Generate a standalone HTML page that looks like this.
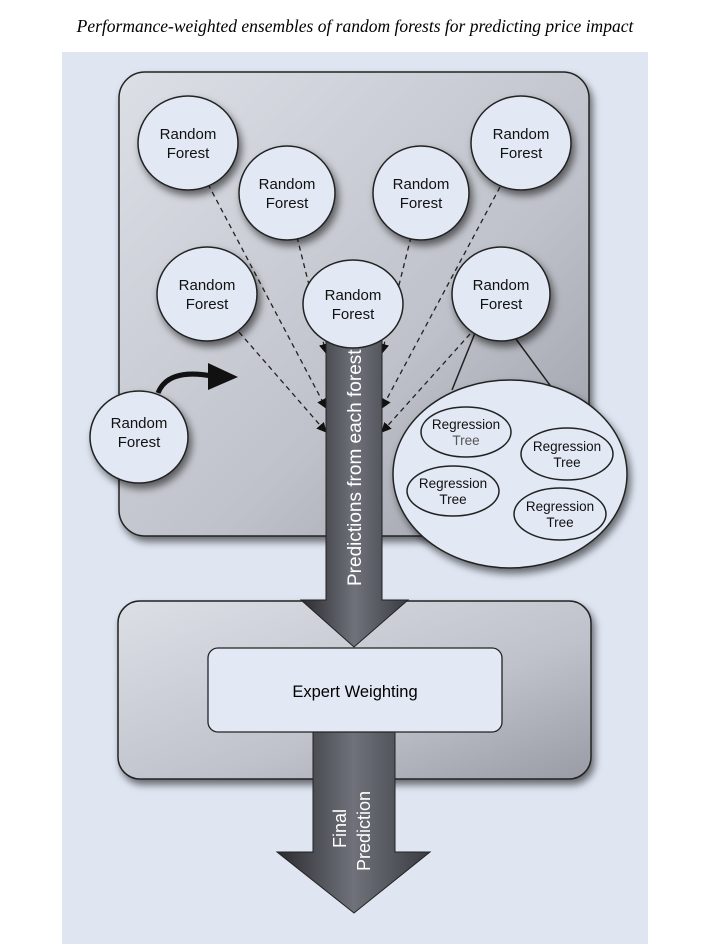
<!DOCTYPE html>
<html><head><meta charset="utf-8"><style>
html,body{margin:0;padding:0;background:#fff;}
svg{display:block;}
</style></head><body>
<svg width="710" height="946" viewBox="0 0 710 946" xmlns="http://www.w3.org/2000/svg">
<defs>
<linearGradient id="pg" x1="0" y1="0" x2="1" y2="1">
<stop offset="0" stop-color="#dcdfe6"/><stop offset="0.6" stop-color="#bfc2ca"/><stop offset="1" stop-color="#999ca5"/>
</linearGradient>
<linearGradient id="sg" x1="0" y1="0" x2="1" y2="0">
<stop offset="0" stop-color="#2a2b30"/><stop offset="0.5" stop-color="#6f727a"/><stop offset="1" stop-color="#3a3c42"/>
</linearGradient>
<filter id="sh" x="-10%" y="-10%" width="130%" height="130%"><feDropShadow dx="3" dy="5" stdDeviation="4" flood-color="#000" flood-opacity="0.55"/></filter>
<marker id="ah" markerWidth="10" markerHeight="10" refX="9" refY="5" orient="auto" markerUnits="userSpaceOnUse"><path d="M0,0 L10,5 L0,10 Z" fill="#111"/></marker>
</defs>
<text x="355" y="32" text-anchor="middle" font-family="Liberation Serif, serif" font-style="italic" font-size="17.5">Performance-weighted ensembles of random forests for predicting price impact</text>
<rect x="62" y="52" width="586" height="892" fill="#dfe6f2"/>
<rect x="119" y="72" width="470" height="464" rx="26" fill="url(#pg)" stroke="#222" stroke-width="1.5" filter="url(#sh)"/>
<rect x="118" y="601" width="473" height="178" rx="22" fill="url(#pg)" stroke="#222" stroke-width="1.5" filter="url(#sh)"/>
<g stroke="#222" stroke-width="1.3" stroke-dasharray="5,4" fill="none" marker-end="url(#ah)">
<line x1="208" y1="184" x2="326" y2="408"/>
<line x1="239" y1="332" x2="326" y2="432"/>
<line x1="297" y1="237" x2="326" y2="353"/>
<line x1="411" y1="237" x2="382" y2="353"/>
<line x1="500" y1="187" x2="382" y2="408"/>
<line x1="470" y1="334" x2="382" y2="432"/>
</g>
<line x1="475" y1="333" x2="452" y2="390" stroke="#222" stroke-width="1.5"/>
<line x1="513" y1="335" x2="555" y2="392" stroke="#222" stroke-width="1.5"/>
<path d="M326,320 L382,320 L382,600 L408,600 L354,647 L301,600 L326,600 Z" fill="url(#sg)" stroke="#222" stroke-width="1"/>
<text transform="translate(361,586) rotate(-90)" font-family="Liberation Sans, sans-serif" font-size="19" fill="#fff">Predictions from each forest</text>
<path d="M313,730 L395,730 L395,852 L430,852 L354,913 L277,852 L313,852 Z" fill="url(#sg)" stroke="#222" stroke-width="1"/>
<text transform="translate(346,848) rotate(-90)" font-family="Liberation Sans, sans-serif" font-size="18" fill="#fff">Final</text>
<text transform="translate(370,871) rotate(-90)" font-family="Liberation Sans, sans-serif" font-size="18" fill="#fff">Prediction</text>
<rect x="208" y="648" width="294" height="84" rx="10" fill="#e2e8f4" stroke="#222" stroke-width="1.3"/>
<text x="355" y="697" text-anchor="middle" font-family="Liberation Sans, sans-serif" font-size="16.5">Expert Weighting</text>
<g font-family="Liberation Sans, sans-serif" font-size="15" text-anchor="middle" fill="#111">
<g stroke="#222" stroke-width="1.5" fill="#e2e8f4" filter="url(#sh)">
<ellipse cx="188" cy="143" rx="50" ry="47"/>
<ellipse cx="287" cy="193" rx="48" ry="47"/>
<ellipse cx="421" cy="193" rx="48" ry="47"/>
<ellipse cx="521" cy="143" rx="50" ry="47"/>
<ellipse cx="207" cy="294" rx="50" ry="47"/>
<ellipse cx="501" cy="294" rx="49" ry="47"/>
<ellipse cx="139" cy="437" rx="49" ry="46"/>
<ellipse cx="510" cy="474" rx="117" ry="94"/>
</g>
<ellipse cx="353" cy="304" rx="50" ry="44" stroke="#222" stroke-width="1.5" fill="#e2e8f4"/>
<text x="188" y="139">Random</text><text x="188" y="158">Forest</text>
<text x="287" y="189">Random</text><text x="287" y="208">Forest</text>
<text x="421" y="189">Random</text><text x="421" y="208">Forest</text>
<text x="521" y="139">Random</text><text x="521" y="158">Forest</text>
<text x="207" y="290">Random</text><text x="207" y="309">Forest</text>
<text x="353" y="300">Random</text><text x="353" y="319">Forest</text>
<text x="501" y="290">Random</text><text x="501" y="309">Forest</text>
<text x="139" y="428">Random</text><text x="139" y="447">Forest</text>
</g>
<path d="M158,393 Q168,368 212,376" stroke="#111" stroke-width="5" fill="none"/>
<path d="M208,363 L238,377 L208,390 Z" fill="#111"/>
<g stroke="#222" stroke-width="1.5" fill="#e2e8f4">
<ellipse cx="466" cy="432" rx="45" ry="25"/>
<ellipse cx="567" cy="454" rx="46" ry="26"/>
<ellipse cx="453" cy="491" rx="46" ry="25"/>
<ellipse cx="560" cy="514" rx="46" ry="26"/>
</g>
<g font-family="Liberation Sans, sans-serif" font-size="13.5" text-anchor="middle" fill="#111">
<text x="466" y="429">Regression</text><text x="466" y="445" fill="#555">Tree</text>
<text x="567" y="451">Regression</text><text x="567" y="467">Tree</text>
<text x="453" y="488">Regression</text><text x="453" y="504">Tree</text>
<text x="560" y="511">Regression</text><text x="560" y="527">Tree</text>
</g>
</svg>
</body></html>
